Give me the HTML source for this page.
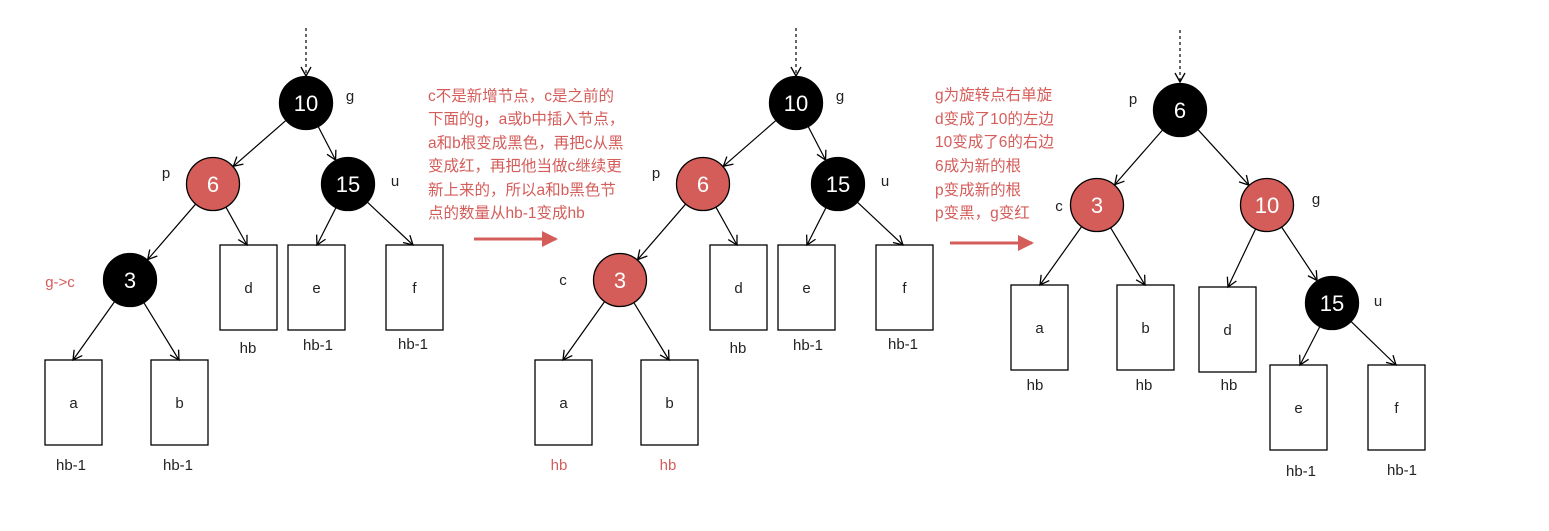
<!DOCTYPE html>
<html><head><meta charset="utf-8"><style>
html,body{margin:0;padding:0;background:#fff;}
svg{display:block;}
text{font-family:"Liberation Sans","Noto Sans CJK SC",sans-serif;}
</style></head><body>
<svg id="s" width="1549" height="531" xmlns="http://www.w3.org/2000/svg">
<defs>
<marker id="ah" markerWidth="12" markerHeight="12" refX="10" refY="6" orient="auto" markerUnits="userSpaceOnUse">
<path d="M1,1 L10,6 L1,11" fill="none" stroke="#000" stroke-width="1.3"/>
</marker>
<marker id="rh" markerWidth="20" markerHeight="20" refX="14" refY="8" orient="auto" markerUnits="userSpaceOnUse">
<path d="M0,0 L16,8 L0,16 Z" fill="#d45d5a"/>
</marker>
</defs>
<g id="g"></g>
<g fill="#d45d5a" font-size="15.5">
<text x="428" y="101">c不是新增节点，c是之前的</text>
<text x="428" y="124">下面的g，a或b中插入节点，</text>
<text x="428" y="148">a和b根变成黑色，再把c从黑</text>
<text x="428" y="171">变成红，再把他当做c继续更</text>
<text x="428" y="195">新上来的，所以a和b黑色节</text>
<text x="428" y="218">点的数量从hb-1变成hb</text>
<text x="935" y="100">g为旋转点右单旋</text>
<text x="935" y="124">d变成了10的左边</text>
<text x="935" y="147">10变成了6的右边</text>
<text x="935" y="171">6成为新的根</text>
<text x="935" y="195">p变成新的根</text>
<text x="935" y="218">p变黑，g变红</text>
</g>
<line x1="474" y1="239" x2="556" y2="239" stroke="#d45d5a" stroke-width="3" marker-end="url(#rh)"/>
<line x1="950" y1="243" x2="1032" y2="243" stroke="#d45d5a" stroke-width="3" marker-end="url(#rh)"/>
</svg>
<script>
var G=document.getElementById('g'),NS='http://www.w3.org/2000/svg',R='#d45d5a';
function el(t,a,txt){var e=document.createElementNS(NS,t);for(var k in a)e.setAttribute(k,a[k]);if(txt!=null)e.textContent=txt;G.appendChild(e);return e;}
function node(x,y,t,red){el('circle',{cx:x,cy:y,r:26.5,fill:red?R:'#000',stroke:'#000','stroke-width':1.3});el('text',{x:x,y:y+8,'text-anchor':'middle','font-size':22,fill:'#fff'},t);return {c:1,x:x,y:y};}
function box(x,y,t){el('rect',{x:x,y:y,width:57,height:85,fill:'#fff',stroke:'#000','stroke-width':1.3});el('text',{x:x+28.5,y:y+48,'text-anchor':'middle','font-size':15,fill:'#222'},t);return {c:0,x:x+28.5,y:y};}
function lab(x,y,t,c){el('text',{x:x,y:y,'text-anchor':'middle','font-size':15,fill:c||'#222'},t);}
function edge(a,b,ex,ey){var sx=a.x,sy=a.y,tx,ty;
 if(b.c){tx=b.x;ty=b.y;}else{tx=ex!=null?ex:b.x;ty=b.y;}
 var dx=tx-sx,dy=ty-sy,l=Math.sqrt(dx*dx+dy*dy);
 var x1=sx+dx/l*27,y1=sy+dy/l*27,x2,y2;
 if(b.c){x2=tx-dx/l*27;y2=ty-dy/l*27;}else{x2=tx;y2=ty;}
 el('line',{x1:x1,y1:y1,x2:x2,y2:y2,stroke:'#000','stroke-width':1.2,'marker-end':'url(#ah)'});}
function dash(x,y1,y2){el('line',{x1:x,y1:y1,x2:x,y2:y2,stroke:'#000','stroke-width':1.2,'stroke-dasharray':'3,3','marker-end':'url(#ah)'});}
function tree(o,red3,hbcol){
 dash(306+o,28,76);
 var n10=node(306+o,103,'10'),n6=node(213+o,184,'6',true),n15=node(348+o,184,'15'),n3=node(130+o,280,'3',red3);
 var d=box(220+o,245,'d'),e=box(288+o,245,'e'),f=box(386+o,245,'f'),a=box(45+o,360,'a'),b=box(151+o,360,'b');
 edge(n10,n6);edge(n10,n15);edge(n6,n3);edge(n6,d,247+o);edge(n15,e,317+o);edge(n15,f,413+o);edge(n3,a,73+o);edge(n3,b,179+o);
 lab(350+o,101,'g');lab(166+o,178,'p');lab(395+o,186,'u');
 lab(248+o,353,'hb');lab(318+o,350,'hb-1');lab(413+o,349,'hb-1');lab(71+o,470,'hb',hbcol);lab(178+o,470,'hb',hbcol);
}
tree(0,false,null);
// fix: first tree labels hb-1
G.lastChild.textContent='hb-1';G.lastChild.previousSibling.textContent='hb-1';
lab(60,287,'g->c',R);
tree(490,true,R);
G.lastChild.setAttribute('x',668);G.lastChild.previousSibling.setAttribute('x',559);
lab(563,285,'c');
// tree 3
dash(1180,30,82);
var m6=node(1180,110,'6'),m3=node(1097,205,'3',true),m10=node(1267,205,'10',true),m15=node(1332,303,'15');
var A=box(1011,285,'a'),B=box(1117,285,'b'),D=box(1199,287,'d'),E=box(1270,365,'e'),F=box(1368,365,'f');
edge(m6,m3);edge(m6,m10);edge(m3,A,1040);edge(m3,B,1145);edge(m10,D,1228);edge(m10,m15);edge(m15,E,1300);edge(m15,F,1396);
lab(1133,104,'p');lab(1059,211,'c');lab(1316,204,'g');lab(1378,306,'u');
lab(1035,390,'hb');lab(1144,390,'hb');lab(1229,390,'hb');lab(1301,476,'hb-1');lab(1402,475,'hb-1');
</script>
</body></html>
